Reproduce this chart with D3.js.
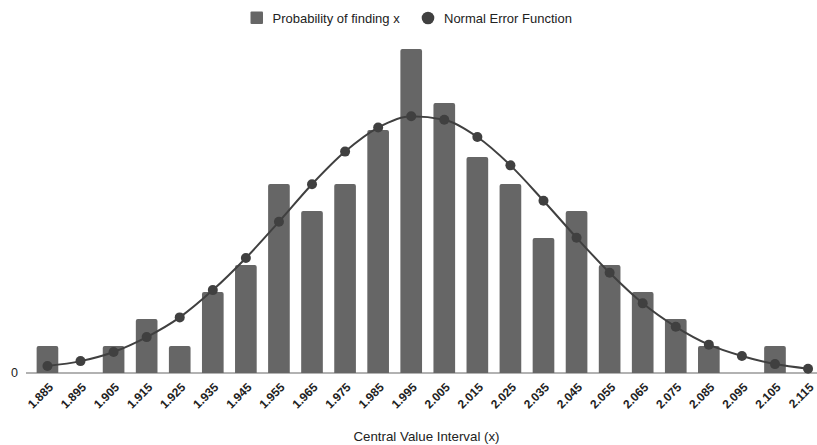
<!DOCTYPE html>
<html>
<head>
<meta charset="utf-8">
<script src="https://cdn.jsdelivr.net/npm/d3@7"></script>
<style>
  body { margin: 0; background: #fff; }
  svg { font-family: "Liberation Sans", Arial, sans-serif; }
</style>
</head>
<body>
<svg id="chart" width="817" height="445"></svg>
<script>
// interval centres
const intervals = ['1.885', '1.895', '1.905', '1.915', '1.925', '1.935', '1.945', '1.955',
  '1.965', '1.975', '1.985', '1.995', '2.005', '2.015', '2.025', '2.035', '2.045', '2.055',
  '2.065', '2.075', '2.085', '2.095', '2.105', '2.115'];

// counts per interval (bars)
const counts = [1, 0, 1, 2, 1, 3, 4, 7, 6, 7, 9, 12, 10, 8, 7, 5, 6, 4, 3, 2, 1, 0, 1, 0];

// normal error function values (line)
const normalFit = [0.26, 0.44, 0.78, 1.33, 2.06, 3.07, 4.26, 5.6, 6.99, 8.2, 9.09, 9.51,
  9.38, 8.74, 7.69, 6.38, 5.01, 3.71, 2.58, 1.71, 1.05, 0.63, 0.33, 0.16];

const yTicks = [0];

const svg = d3.select('#chart');
const barColor = '#666666';
const lineColor = '#404040';

const baseY = 373;
const topY = 49;

const x = d3.scaleBand()
  .domain(intervals)
  .range([31, 824.5])
  .paddingInner(0.345)
  .paddingOuter(0.17);

const y = d3.scaleLinear()
  .domain([0, 12])
  .range([baseY, topY]);

const cx = d => x(d) + x.bandwidth() / 2;

// bars
svg.append('g')
  .selectAll('path')
  .data(counts.map((c, i) => ({ k: intervals[i], v: c })).filter(d => d.v > 0))
  .enter()
  .append('path')
  .attr('fill', barColor)
  .attr('d', d => {
    const x0 = x(d.k), w = x.bandwidth(), y0 = y(d.v), r = 2;
    return `M${x0},${baseY}V${y0 + r}Q${x0},${y0} ${x0 + r},${y0}H${x0 + w - r}Q${x0 + w},${y0} ${x0 + w},${y0 + r}V${baseY}Z`;
  });

// baseline
svg.append('line')
  .attr('x1', 26).attr('x2', 817)
  .attr('y1', baseY).attr('y2', baseY)
  .attr('stroke', '#666').attr('stroke-width', 1.2);

// y axis labels
svg.append('g')
  .selectAll('text')
  .data(yTicks)
  .enter()
  .append('text')
  .attr('x', 14.5)
  .attr('y', d => y(d))
  .attr('dy', '0.35em')
  .attr('text-anchor', 'middle')
  .attr('font-size', 12.5)
  .attr('fill', '#222')
  .text(d => d);

// line
const line = d3.line()
  .x((d, i) => cx(intervals[i]))
  .y(d => y(d))
  .curve(d3.curveMonotoneX);

svg.append('path')
  .datum(normalFit)
  .attr('fill', 'none')
  .attr('stroke', lineColor)
  .attr('stroke-width', 2)
  .attr('d', line);

svg.append('g')
  .selectAll('circle')
  .data(normalFit)
  .enter()
  .append('circle')
  .attr('cx', (d, i) => cx(intervals[i]))
  .attr('cy', d => y(d))
  .attr('r', 5)
  .attr('fill', lineColor);

// x tick labels
svg.append('g')
  .selectAll('text')
  .data(intervals)
  .enter()
  .append('text')
  .attr('transform', d => `translate(${cx(d) + 6.5},${baseY + 15}) rotate(-45)`)
  .attr('text-anchor', 'end')
  .attr('font-size', 12)
  .attr('font-weight', 'bold')
  .attr('fill', '#222')
  .text(d => d);

// axis title
svg.append('text')
  .attr('x', 426.5)
  .attr('y', 441)
  .attr('text-anchor', 'middle')
  .attr('font-size', 13.3)
  .attr('fill', '#222')
  .text('Central Value Interval (x)');

// legend
const legend = svg.append('g');
legend.append('rect')
  .attr('x', 250.5).attr('y', 11.5)
  .attr('width', 12.5).attr('height', 12.5)
  .attr('rx', 1)
  .attr('fill', barColor);
legend.append('text')
  .attr('x', 272.5).attr('y', 18)
  .attr('dy', '0.35em')
  .attr('font-size', 13)
  .attr('fill', '#222')
  .text('Probability of finding x');
legend.append('circle')
  .attr('cx', 428).attr('cy', 18)
  .attr('r', 6.3)
  .attr('fill', lineColor);
legend.append('text')
  .attr('x', 444).attr('y', 18)
  .attr('dy', '0.35em')
  .attr('font-size', 13)
  .attr('fill', '#222')
  .text('Normal Error Function');
</script>
</body>
</html>
